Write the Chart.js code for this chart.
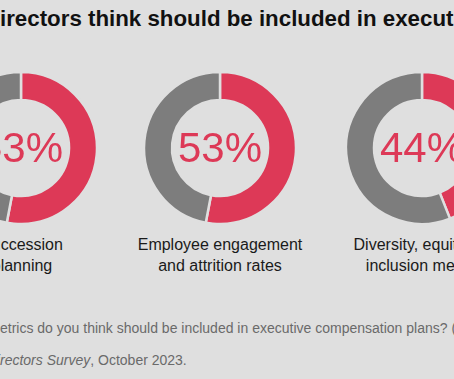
<!DOCTYPE html>
<html>
<head>
<meta charset="utf-8">
<script src="https://cdn.jsdelivr.net/npm/chart.js"></script>
<style>
  html, body { margin:0; padding:0; width:454px; height:379px; overflow:hidden; background:#dfdfdf; }
  body { position:relative; font-family: Arial, "Liberation Sans", Helvetica, sans-serif; }
  .abs { position:absolute; white-space:nowrap; }
  #title { top:6px; font-size:22.3px; font-weight:bold; color:#111; line-height:26px; }
  .lbl { font-size:16px; color:#1a1a1a; text-align:center; line-height:21px; width:220px; }
  .foot { font-size:14px; color:#6a6a6a; line-height:18px; }
  canvas { position:absolute; }
</style>
</head>
<body>
<div id="title" class="abs"><span class="pre">What metrics do d</span><span>irectors think should be included in executive compensation plans?</span></div>
<div id="f1" class="abs foot" style="top:319px"><span class="pre">Question: What m</span><span>etrics do you think should be included in executive compensation plans? (Select all that apply)</span></div>
<div id="f2" class="abs foot" style="top:351px"><span class="pre">Source: PwC, <i>2023 Annual Corporate Di</i></span><span><i>rectors Survey</i>, October 2023.</span></div>
<script>
const categories = [["Succession", "planning"], ["Employee engagement", "and attrition rates"], ["Diversity, equity and", "inclusion metrics"]];
const values = [53, 53, 44];
const centerX = [21, 220, 422];
const labelX = [22, 220, 425];
const centerY = 148;
const colors = { value: "#dd3957", rest: "#7d7d7d", bg: "#dfdfdf" };

// shift cropped text so the visible part starts at the left edge
document.querySelectorAll('#title, #f1, #f2').forEach(el => {
  const pre = el.querySelector('.pre');
  el.style.left = (-pre.getBoundingClientRect().width) + 'px';
});

const centerText = {
  id: 'centerText',
  afterDraw(chart) {
    const {ctx, chartArea} = chart;
    const cx = (chartArea.left + chartArea.right) / 2;
    const cy = (chartArea.top + chartArea.bottom) / 2;
    ctx.save();
    ctx.fillStyle = colors.value;
    ctx.font = '42px Arial, "Liberation Sans", sans-serif';
    ctx.textAlign = 'center';
    ctx.textBaseline = 'middle';
    ctx.fillText(chart.options.plugins.centerText.text, cx, cy + 2);
    ctx.restore();
  }
};

const S = 164;
categories.forEach((cat, i) => {
  const c = document.createElement('canvas');
  c.width = S; c.height = S;
  c.style.width = S + 'px'; c.style.height = S + 'px';
  c.style.left = (centerX[i] - S / 2) + 'px';
  c.style.top = (centerY - S / 2) + 'px';
  document.body.appendChild(c);
  new Chart(c, {
    type: 'doughnut',
    data: {
      labels: ['Yes', 'No'],
      datasets: [{
        data: [values[i], 100 - values[i]],
        backgroundColor: [colors.value, colors.rest],
        borderColor: colors.bg,
        borderWidth: 2.5
      }]
    },
    options: {
      responsive: false,
      animation: false,
      radius: 76,
      cutout: 51,
      plugins: { legend: { display: false }, tooltip: { enabled: false }, centerText: { text: values[i] + '%' } }
    },
    plugins: [centerText]
  });
  const l = document.createElement('div');
  l.className = 'abs lbl';
  l.style.left = (labelX[i] - 110) + 'px';
  l.style.top = '234px';
  l.innerHTML = cat.join('<br>');
  document.body.appendChild(l);
});
</script>
</body>
</html>
